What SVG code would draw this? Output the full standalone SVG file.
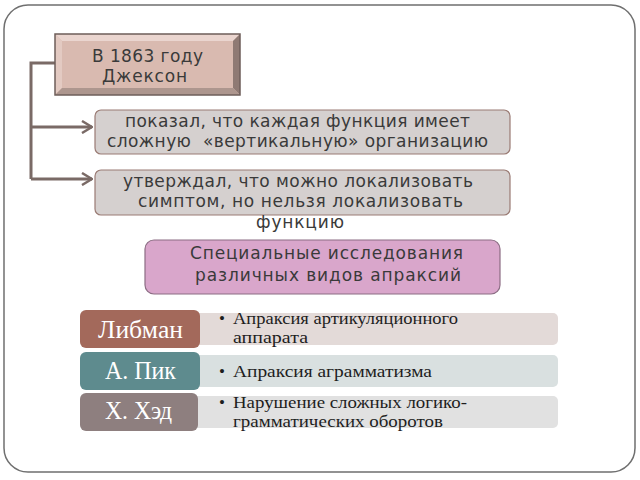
<svg xmlns="http://www.w3.org/2000/svg" width="640" height="480" viewBox="0 0 640 480">
<defs>
<style>
.sans{font-family:"DejaVu Sans","Liberation Sans",sans-serif;fill:#3a3a3a;text-anchor:middle;font-size:17px}
.serif{font-family:"Liberation Serif","DejaVu Serif",serif}
.lbl{fill:#ffffff;text-anchor:middle;font-size:25px}
.item{fill:#1e1e1e;font-size:17px}
.conn{fill:none;stroke:#7a6a66;stroke-width:3}
.gray{fill:#d5d0cf;stroke:#9a7b74;stroke-width:1.2}
</style>
<marker id="chev" viewBox="0 0 12 14" refX="11" refY="7" markerWidth="12" markerHeight="14" markerUnits="userSpaceOnUse" orient="auto">
<path d="M1,1 L11,7 L1,13" fill="none" stroke="#7a6a66" stroke-width="2.5"/>
</marker>
</defs>
<rect width="640" height="480" fill="#ffffff"/>
<rect x="4" y="5" width="631" height="467" rx="24" fill="#ffffff" stroke="#6f6f6f" stroke-width="1.5"/>

<g id="connectors">
<path class="conn" d="M55,63 H31 V179"/>
<path class="conn" d="M31,127 H92" marker-end="url(#chev)"/>
<path class="conn" d="M31,179 H92" marker-end="url(#chev)"/>
</g>

<g id="node-jackson">
<rect x="55" y="34" width="185" height="61" fill="#d9bab0"/>
<polygon points="55,34 240,34 233,41 62,41" fill="#ead5cf"/>
<polygon points="55,34 62,41 62,88 55,95" fill="#e3cac2"/>
<polygon points="240,34 240,95 233,88 233,41" fill="#8f7a74"/>
<polygon points="55,95 240,95 233,88 62,88" fill="#ad968e"/>
<rect x="55" y="34" width="185" height="61" fill="none" stroke="#6e5e5a" stroke-width="1.5"/>
<rect x="62" y="41" width="171" height="47" fill="#d9bab0"/>
<text class="sans" x="147.5" y="62" textLength="111" lengthAdjust="spacing">В 1863 году</text>
<text class="sans" x="144.5" y="82" textLength="85" lengthAdjust="spacing">Джексон</text>
</g>

<g id="node-showed">
<rect class="gray" x="95" y="110" width="415" height="44" rx="6"/>
<text class="sans" x="297.5" y="127" textLength="345" lengthAdjust="spacing">показал, что каждая функция имеет</text>
<text class="sans" x="297.5" y="147" textLength="381" lengthAdjust="spacing">сложную&#160; «вертикальную» организацию</text>
</g>

<g id="node-claimed">
<rect class="gray" x="95" y="170" width="415" height="45" rx="6"/>
<text class="sans" x="298" y="187" textLength="350" lengthAdjust="spacing">утверждал, что можно локализовать</text>
<text class="sans" x="300.5" y="207" textLength="325" lengthAdjust="spacing">симптом, но нельзя локализовать</text>
<text class="sans" x="300" y="228" textLength="88" lengthAdjust="spacing">функцию</text>
</g>

<g id="node-special">
<rect x="145" y="240" width="355" height="54" rx="9" fill="#d9a6cb" stroke="#8c6d84" stroke-width="1.2"/>
<text class="sans" x="326.5" y="259" textLength="273" lengthAdjust="spacing">Специальные исследования</text>
<text class="sans" x="328" y="281" textLength="266" lengthAdjust="spacing">различных видов апраксий</text>
</g>

<g id="node-libman">
<rect x="190" y="313" width="368" height="32" rx="5" fill="#e3dad8"/>
<rect x="80" y="310" width="120" height="38" rx="6" fill="#a3695b"/>
<text class="serif lbl" x="140.5" y="338" textLength="85" lengthAdjust="spacingAndGlyphs">Либман</text>
<text class="serif item" x="219" y="324">•</text>
<text class="serif item" x="233" y="324" textLength="225" lengthAdjust="spacingAndGlyphs">Апраксия артикуляционного</text>
<text class="serif item" x="233" y="343" textLength="75" lengthAdjust="spacingAndGlyphs">аппарата</text>
</g>

<g id="node-pick">
<rect x="190" y="355" width="368" height="32" rx="5" fill="#d9e0e0"/>
<rect x="80" y="352" width="120" height="38" rx="6" fill="#5e8b8e"/>
<text class="serif lbl" x="140.5" y="379" textLength="71" lengthAdjust="spacingAndGlyphs">А. Пик</text>
<text class="serif item" x="219" y="377">•</text>
<text class="serif item" x="233" y="377" textLength="199" lengthAdjust="spacingAndGlyphs">Апраксия аграмматизма</text>
</g>

<g id="node-head">
<rect x="190" y="396" width="368" height="32" rx="5" fill="#e1e1e1"/>
<rect x="80" y="393" width="118" height="38" rx="6" fill="#8e7f7f"/>
<text class="serif lbl" x="138.5" y="419" textLength="67" lengthAdjust="spacingAndGlyphs">Х. Хэд</text>
<text class="serif item" x="219" y="408">•</text>
<text class="serif item" x="233" y="408" textLength="234" lengthAdjust="spacingAndGlyphs">Нарушение сложных логико-</text>
<text class="serif item" x="233" y="427" textLength="210" lengthAdjust="spacingAndGlyphs">грамматических оборотов</text>
</g>
</svg>
